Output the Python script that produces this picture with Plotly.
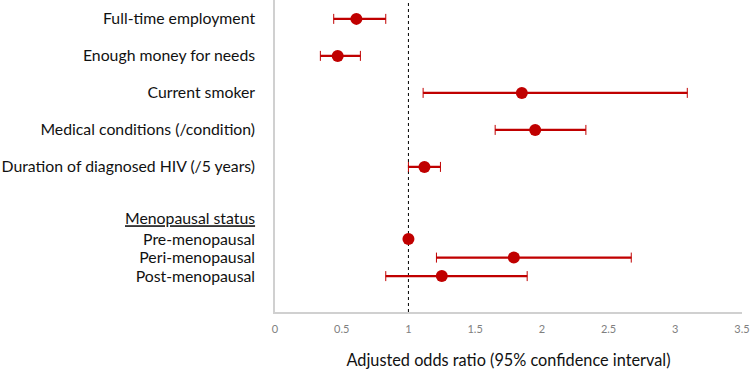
import plotly.graph_objects as go

labels = ["Full-time employment", "Enough money for needs", "Current smoker",
          "Medical conditions (/condition)", "Duration of diagnosed HIV (/5 years)",
          "<u>Menopausal status</u>", "Pre-menopausal", "Peri-menopausal", "Post-menopausal"]
odds_ratio = [0.61, 0.47, 1.85, 1.95, 1.12, None, 1.0, 1.79, 1.25]
ci_lower = [0.44, 0.34, 1.11, 1.65, 1.0, None, 1.0, 1.21, 0.83]
ci_upper = [0.83, 0.64, 3.09, 2.33, 1.24, None, 1.0, 2.67, 1.89]
x_ticks = [0, 0.5, 1, 1.5, 2, 2.5, 3, 3.5]

# layout: vertical row positions (irregular spacing as in the original)
row_pos = [0, 1, 2, 3, 4, 5.4, 5.95, 6.45, 6.95]

RED = "#C00000"
pts = [i for i, v in enumerate(odds_ratio) if v is not None]
xs = [odds_ratio[i] for i in pts]
ys = [row_pos[i] for i in pts]
plus = [ci_upper[i] - odds_ratio[i] for i in pts]
minus = [odds_ratio[i] - ci_lower[i] for i in pts]

fig = go.Figure()
# thin caps
fig.add_trace(go.Scatter(
    x=xs, y=ys, mode="markers", marker=dict(size=0.1, color="rgba(0,0,0,0)"),
    error_x=dict(type="data", array=plus, arrayminus=minus, color=RED,
                 thickness=1, width=5, visible=True),
    showlegend=False, hoverinfo="skip"))
# thick interval line + point estimate
fig.add_trace(go.Scatter(
    x=xs, y=ys, mode="markers",
    marker=dict(color=RED, size=12, symbol="circle"),
    error_x=dict(type="data", array=plus, arrayminus=minus, color=RED,
                 thickness=2.2, width=0, visible=True),
    showlegend=False, hoverinfo="skip"))

fig.add_shape(type="line", x0=1, x1=1, y0=0, y1=1, xref="x", yref="paper",
              line=dict(color="black", width=1, dash="dot"), layer="below")

fig.update_layout(
    width=750, height=369,
    margin=dict(l=275, r=8, t=0, b=57),
    paper_bgcolor="white", plot_bgcolor="white",
    font=dict(family="Lato", color="#111111"),
    xaxis=dict(range=[0, 3.5], tickvals=x_ticks, ticktext=[f"{v:g}" for v in x_ticks],
               showgrid=False, zeroline=False, showline=True, linecolor="#d0d0d0",
               linewidth=1.5, ticks="", tickfont=dict(size=11, color="#7f7f7f"),
               ticklabelstandoff=6, automargin=False,
               title=dict(text="Adjusted odds ratio (95% confidence interval)",
                          font=dict(size=16.3, color="#111111"), standoff=34)),
    yaxis=dict(range=[7.92, -0.51], tickvals=row_pos, ticktext=labels,
               showgrid=False, zeroline=False, showline=True, linecolor="#d0d0d0",
               linewidth=1.5, ticks="", ticklabelstandoff=15, automargin=False,
               tickfont=dict(size=15.8, color="#111111")),
)

fig.write_html("out.html", config={"displayModeBar": False},
               post_script="document.body.style.margin='0';document.body.style.padding='0';")
